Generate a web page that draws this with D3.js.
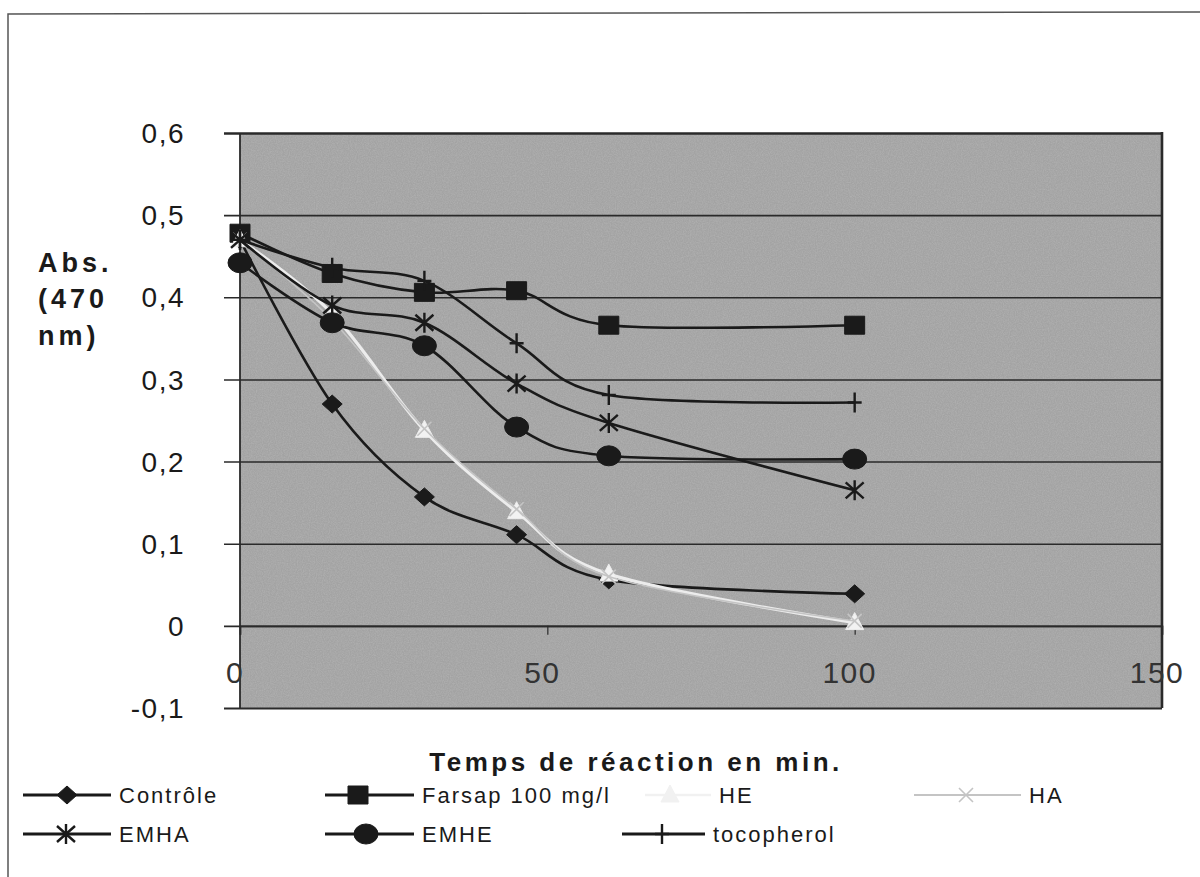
<!DOCTYPE html>
<html><head><meta charset="utf-8">
<script src="https://cdn.jsdelivr.net/npm/d3@7"></script>
<style>body{margin:0;background:#fff} svg{display:block}</style>
</head><body><svg id="c" width="1200" height="877"></svg>
<script>
// ---- data ----
const times = [0, 15, 30, 45, 60, 100];
const controle   = [0.470, 0.270, 0.157, 0.111, 0.056, 0.039];
const farsap     = [0.478, 0.429, 0.406, 0.408, 0.366, 0.366];
const he         = [0.470, 0.380, 0.238, 0.139, 0.063, 0.004];
const ha         = [0.470, 0.372, 0.240, 0.142, 0.060, 0.006];
const emha       = [0.470, 0.390, 0.369, 0.295, 0.247, 0.165];
const emhe       = [0.442, 0.369, 0.341, 0.242, 0.207, 0.203];
const tocopherol = [0.470, 0.436, 0.420, 0.344, 0.281, 0.272];
const seriesNames = ["Contrôle", "Farsap 100 mg/l", "HE", "HA", "EMHA", "EMHE", "tocopherol"];
const yTicks = [-0.1, 0, 0.1, 0.2, 0.3, 0.4, 0.5, 0.6];
const xTicks = [0, 50, 100, 150];
const yTitle = ["Abs.", "(470", "nm)"];
const xTitle = "Temps de réaction en min.";

const values = [controle, farsap, he, ha, emha, emhe, tocopherol];
const styles = [
  {stroke:"#1a1a1a", w:2.6, marker:"diamond", fill:"#1a1a1a"},
  {stroke:"#1a1a1a", w:2.6, marker:"square",  fill:"#1a1a1a"},
  {stroke:"#ececec", w:3.2, marker:"triangle",fill:"#f2f2f2"},
  {stroke:"#c4c4c4", w:1.6, marker:"x",       fill:"none"},
  {stroke:"#1a1a1a", w:2.6, marker:"star",    fill:"none"},
  {stroke:"#1a1a1a", w:2.6, marker:"circle",  fill:"#1a1a1a"},
  {stroke:"#1a1a1a", w:2.6, marker:"plus",    fill:"none"}
];

const FONT = "'Liberation Sans', Arial, Helvetica, sans-serif";
const svg = d3.select("#c");

const x = d3.scaleLinear().domain([0,150]).range([240,1162]);
const y = d3.scaleLinear().domain([-0.1,0.6]).range([708,133]);

// texture filter
const defs = svg.append("defs");
const f = defs.append("filter").attr("id","grain").attr("x",0).attr("y",0).attr("width","100%").attr("height","100%");
f.append("feTurbulence").attr("type","fractalNoise").attr("baseFrequency","0.85").attr("numOctaves",2).attr("seed",3).attr("result","n");
f.append("feColorMatrix").attr("type","matrix")
  .attr("values","0 0 0 0 0.55  0 0 0 0 0.55  0 0 0 0 0.55  1.2 0 0 0 -0.35");

// outer frame
svg.append("path").attr("d","M8,877 L8,14 L1200,12").attr("fill","none").attr("stroke","#555").attr("stroke-width",1.5);

// plot area
svg.append("rect").attr("x",x(0)).attr("y",y(0.6)).attr("width",x(150)-x(0)).attr("height",y(-0.1)-y(0.6))
  .attr("fill","#a3a3a3");
svg.append("rect").attr("x",x(0)).attr("y",y(0.6)).attr("width",x(150)-x(0)).attr("height",y(-0.1)-y(0.6))
  .attr("filter","url(#grain)").attr("opacity",0.55);

// gridlines + y ticks
const yAxis = d3.axisLeft(y).tickValues(yTicks).tickSize(-(x(150)-x(0))).tickPadding(0).tickFormat(()=> "");
const gy = svg.append("g").attr("transform",`translate(${x(0)},0)`).call(yAxis);
gy.select(".domain").remove();
gy.selectAll(".tick line").attr("stroke","#2a2a2a").attr("stroke-width",1.6).attr("x2", x(150)-x(0)).attr("x1",-16);
gy.selectAll(".tick").filter(d=>d===0.6).select("line").attr("stroke-width",2.6);
gy.selectAll(".tick").filter(d=>d===-0.1).select("line").attr("stroke-width",2.2);

// y tick labels
svg.append("g").selectAll("text").data(yTicks).join("text")
  .attr("x",185).attr("y",d=>y(d)).attr("dy","0.36em").attr("text-anchor","end")
  .attr("font-family",FONT).attr("font-size",28).attr("letter-spacing",1.5).attr("fill","#1a1a1a")
  .text(d=> d===0 ? "0" : String(d).replace(".",","));

// axes lines
svg.append("line").attr("x1",x(0)).attr("x2",x(0)).attr("y1",y(0.6)).attr("y2",y(-0.1)).attr("stroke","#2a2a2a").attr("stroke-width",1.8);
svg.append("line").attr("x1",x(150)).attr("x2",x(150)).attr("y1",y(0.6)-1).attr("y2",y(-0.1)).attr("stroke","#2a2a2a").attr("stroke-width",2.6);

// x axis at y=0
const xAxis = d3.axisBottom(x).tickValues(xTicks).tickSize(9).tickFormat(()=> "");
const gx = svg.append("g").attr("transform",`translate(0,${y(0)})`).call(xAxis);
gx.select(".domain").attr("stroke","#2a2a2a").attr("stroke-width",1.6);
gx.selectAll(".tick line").attr("stroke","#2a2a2a").attr("stroke-width",1.2);
svg.append("g").selectAll("text").data(xTicks).join("text")
  .attr("x",d=>x(d)-5).attr("y",y(0)+57).attr("text-anchor","middle")
  .attr("font-family",FONT).attr("font-size",30).attr("letter-spacing",1.5).attr("fill","#333")
  .text(d=>d);

// markers
function markerPath(type, cx, cy){
  switch(type){
    case "diamond": return `M${cx},${cy-9}L${cx+10},${cy}L${cx},${cy+9}L${cx-10},${cy}Z`;
    case "square":  return `M${cx-10},${cy-9}h20v18h-20Z`;
    case "triangle":return `M${cx},${cy-10}L${cx+9},${cy+7}L${cx-9},${cy+7}Z`;
    case "x":       return `M${cx-7},${cy-7}L${cx+7},${cy+7}M${cx-7},${cy+7}L${cx+7},${cy-7}`;
    case "star":    return `M${cx-9},${cy-8}L${cx+9},${cy+8}M${cx-9},${cy+8}L${cx+9},${cy-8}M${cx},${cy-10}L${cx},${cy+10}`;
    case "plus":    return `M${cx-7},${cy}L${cx+7},${cy}M${cx},${cy-10}L${cx},${cy+10}`;
  }
}
function drawMarker(g, st, cx, cy){
  if(st.marker==="circle"){
    g.append("ellipse").attr("cx",cx).attr("cy",cy).attr("rx",12).attr("ry",10).attr("fill",st.fill).attr("stroke",st.stroke).attr("stroke-width",1);
  } else {
    const filled = st.fill !== "none";
    g.append("path").attr("d",markerPath(st.marker,cx,cy))
      .attr("fill", filled ? st.fill : "none")
      .attr("stroke", st.stroke).attr("stroke-width", filled ? 1 : (st.marker==="x"?1.6:2.4));
  }
}

// series
const line = d3.line().x(d=>x(d[0])).y(d=>y(d[1])).curve(d3.curveCatmullRom.alpha(0));
values.forEach((vals,i)=>{
  const st = styles[i];
  const pts = times.map((t,j)=>[t, vals[j]]);
  const g = svg.append("g");
  g.append("path").attr("d",line(pts)).attr("fill","none").attr("stroke",st.stroke).attr("stroke-width",st.w).attr("stroke-linejoin","round");
  pts.forEach(p=>drawMarker(g, st, x(p[0]), y(p[1])));
});

// y title
svg.append("g").selectAll("text").data(yTitle).join("text")
  .attr("x",38).attr("y",(d,i)=>[262,298,335][i]).attr("dy","0.36em")
  .attr("font-family",FONT).attr("font-weight","bold").attr("font-size",27).attr("letter-spacing",4).attr("fill","#1a1a1a")
  .text(d=>d);

// x title
svg.append("text").attr("x",636).attr("y",762).attr("dy","0.36em").attr("text-anchor","middle")
  .attr("font-family",FONT).attr("font-weight","bold").attr("font-size",26).attr("letter-spacing",3.5).attr("fill","#1a1a1a")
  .text(xTitle);

// legend
const legendPos = [
  {lx:23, mx:67,  tx:119, ty:795},
  {lx:325,mx:358, tx:422, ty:795},
  {lx:645,mx:670, tx:719, ty:795},
  {lx:914,mx:966, tx:1029,ty:795},
  {lx:23, mx:66,  tx:119, ty:834},
  {lx:325,mx:366, tx:422, ty:834},
  {lx:622,mx:662, tx:713, ty:834}
];
const lg = svg.append("g");
seriesNames.forEach((name,i)=>{
  const p = legendPos[i], st = styles[i];
  const g = lg.append("g");
  const lineEnd = p.tx - 8;
  const legSt = i===2 ? {...st, fill:"#f1f1f1", stroke:"#f1f1f1"} : st;
  g.append("line").attr("x1",p.lx).attr("x2",lineEnd).attr("y1",p.ty).attr("y2",p.ty)
    .attr("stroke", legSt.stroke).attr("stroke-width", i===2 ? 2.5 : st.w + 0.4);
  drawMarker(g, legSt, p.mx, p.ty);
  g.append("text").attr("x",p.tx).attr("y",p.ty).attr("dy","0.36em")
    .attr("font-family",FONT).attr("font-size",22).attr("letter-spacing",2).attr("fill","#1a1a1a")
    .text(name);
});
</script>
</body></html>
